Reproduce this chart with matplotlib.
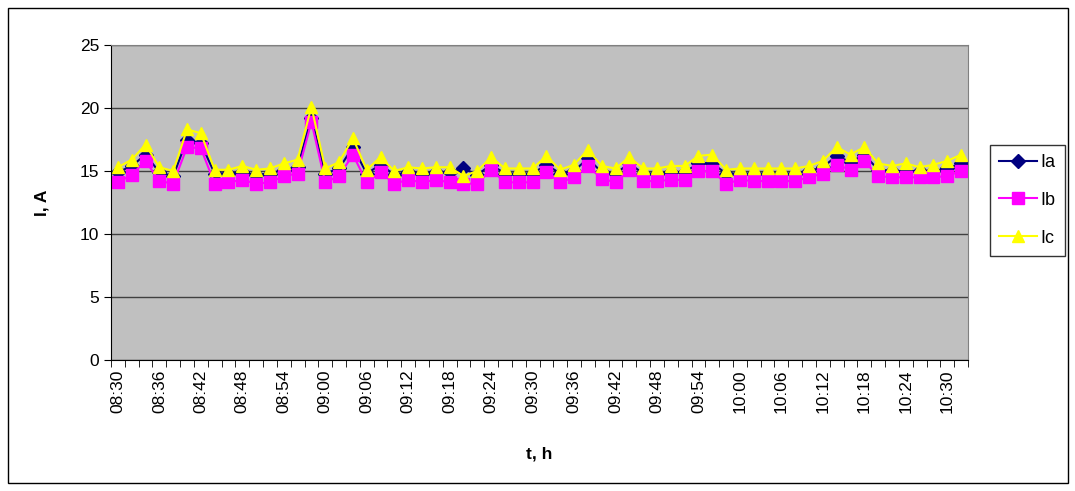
import numpy as np
import matplotlib
matplotlib.use('Agg')
import matplotlib.pyplot as plt
from matplotlib.patches import Rectangle

plt.rcParams['font.family'] = ['Liberation Sans', 'DejaVu Sans']

# readings every 2 minutes, 08:30 .. 10:32
Ia = [14.9, 15.4, 16.3, 14.9, 14.6, 17.5, 17.2, 14.8, 14.8, 14.9,
      14.7, 14.8, 15.1, 15.3, 19.2, 14.8, 15.2, 16.9, 14.8, 15.5,
      14.7, 14.9, 14.8, 14.9, 14.9, 15.2, 14.7, 15.5, 14.8, 14.8,
      14.8, 15.5, 14.8, 15.0, 16.0, 14.9, 14.8, 15.6, 14.8, 14.8,
      14.9, 14.9, 15.6, 15.6, 14.8, 14.8, 14.8, 14.8, 14.8, 14.8,
      15.0, 15.3, 16.2, 15.7, 16.3, 15.1, 15.0, 15.0, 15.0, 15.0,
      15.2, 15.6]
Ib = [14.1, 14.7, 15.8, 14.2, 14.0, 16.9, 16.8, 14.0, 14.1, 14.3,
      14.0, 14.1, 14.6, 14.8, 18.9, 14.1, 14.6, 16.3, 14.1, 14.9,
      14.0, 14.3, 14.1, 14.3, 14.1, 14.0, 14.0, 15.1, 14.1, 14.1,
      14.1, 14.9, 14.1, 14.5, 15.4, 14.4, 14.1, 15.1, 14.2, 14.2,
      14.3, 14.3, 15.0, 15.0, 14.0, 14.3, 14.2, 14.2, 14.2, 14.2,
      14.5, 14.8, 15.5, 15.1, 15.8, 14.6, 14.5, 14.5, 14.5, 14.5,
      14.6, 15.0]
Ic = [15.3, 15.9, 17.1, 15.3, 15.0, 18.3, 18.0, 15.1, 15.1, 15.4,
      15.1, 15.2, 15.6, 15.9, 20.1, 15.2, 15.7, 17.6, 15.1, 16.1,
      15.0, 15.3, 15.2, 15.3, 15.3, 14.6, 15.0, 16.1, 15.2, 15.2,
      15.2, 16.2, 15.1, 15.5, 16.7, 15.4, 15.2, 16.1, 15.2, 15.2,
      15.4, 15.4, 16.2, 16.3, 15.1, 15.2, 15.2, 15.2, 15.2, 15.2,
      15.4, 15.8, 16.9, 16.3, 16.9, 15.6, 15.4, 15.6, 15.3, 15.5,
      15.8, 16.3]
tick_labels = ['08:30', '08:36', '08:42', '08:48', '08:54', '09:00', '09:06',
               '09:12', '09:18', '09:24', '09:30', '09:36', '09:42', '09:48',
               '09:54', '10:00', '10:06', '10:12', '10:18', '10:24', '10:30']

x = np.arange(len(Ia))

fig = plt.figure(figsize=(10.75, 4.91), dpi=100)
ax = fig.add_axes([111/1075, 1 - 360/491, 857/1075, 315/491])
ax.set_facecolor('#C0C0C0')

ax.plot(x, Ia, color='#000080', marker='D', markersize=7, lw=1.5, label='Ia')
ax.plot(x, Ib, color='#FF00FF', marker='s', markersize=8, lw=1.5, label='Ib')
ax.plot(x, Ic, color='#FFFF00', marker='^', markersize=9, lw=1.5, label='Ic')

ax.set_ylim(0, 25)
ax.set_yticks([0, 5, 10, 15, 20, 25])
ax.set_xlim(-0.5, len(x) - 0.5)
ax.set_xticks(x[::3])
ax.set_xticklabels(tick_labels, rotation=90)
ax.set_xticks(np.arange(-0.5, len(x)), minor=True)
ax.tick_params(axis='x', which='major', length=0, labelsize=12.5, pad=7)
ax.tick_params(axis='x', which='minor', length=5, direction='out')
ax.tick_params(axis='y', length=5, direction='out', labelsize=12.5)
ax.yaxis.grid(True, color='#404040', lw=1)
ax.set_axisbelow(True)
for s in ['top', 'right']:
    ax.spines[s].set_color('#808080')

ax.set_xlabel('t, h', fontsize=12.5, fontweight='bold', labelpad=24)
ax.set_ylabel('I, A', fontsize=12.5, fontweight='bold', labelpad=22)

leg = ax.legend(loc='upper left', bbox_to_anchor=(990/1075, 1 - 145/491),
                bbox_transform=fig.transFigure, fontsize=13, frameon=True,
                fancybox=False, edgecolor='black', handlelength=2.1,
                handletextpad=0.2, labelspacing=1.15, borderpad=0.5,
                borderaxespad=0)
leg.get_frame().set_linewidth(1)

fig.patches.append(Rectangle((8/1075, 1 - 483/491), 1060/1075, 475/491,
                             transform=fig.transFigure, fill=False,
                             edgecolor='black', lw=1))

fig.savefig('out.png', dpi=100)
